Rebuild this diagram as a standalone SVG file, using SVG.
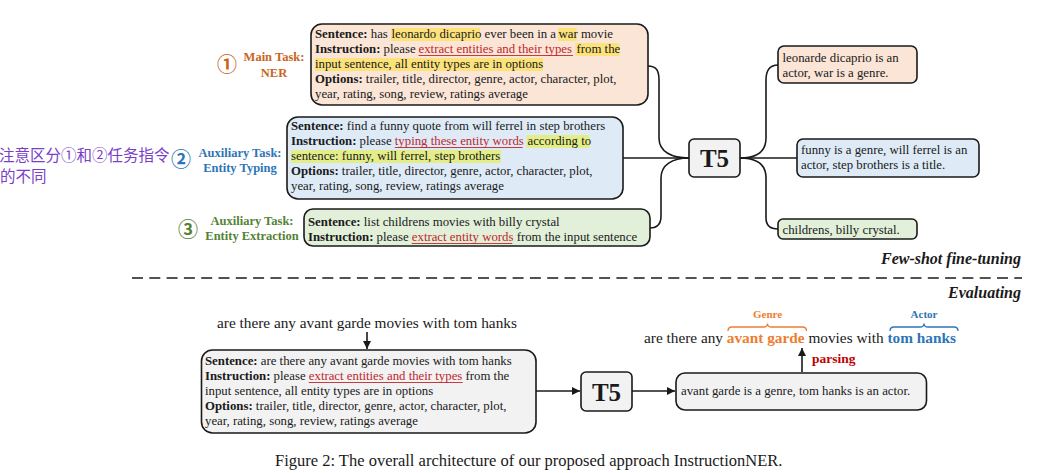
<svg xmlns="http://www.w3.org/2000/svg" width="1045" height="473" viewBox="0 0 1045 473">
<defs>
<style>
text{font-family:"Liberation Serif","Times New Roman",serif;fill:#1a1a1a}
.bt{font-size:12.8px}
.b{font-weight:bold}
.red{fill:#c0272d}
.box{stroke:#1a1a1a;stroke-width:1.6}
.conn{fill:none;stroke:#1a1a1a;stroke-width:1.6}
.hy{fill:#fce27a}
.hg{fill:#e4ee88}
.ul{stroke:#c0272d;stroke-width:0.9}
.lbl{font-size:12.5px;font-weight:bold;text-anchor:middle}
.circ{font-family:"Noto Sans CJK SC","DejaVu Sans",sans-serif;font-size:20px;font-weight:bold;text-anchor:middle}
.t5{font-size:25px;font-weight:bold;text-anchor:middle}
</style>
<marker id="ah" viewBox="0 0 10 10" refX="10" refY="5" markerWidth="8" markerHeight="8" markerUnits="userSpaceOnUse" orient="auto">
<path d="M0,0 L10,5 L0,10 z" fill="#1a1a1a"/>
</marker>
</defs>
<rect width="1045" height="473" fill="#ffffff"/>

<!-- note -->
<g id="note">
<text x="-1" y="161" style="font-family:'Noto Sans CJK SC',sans-serif;font-size:15.5px;fill:#7a3fc8">注意区分①和②任务指令</text>
<text x="0" y="182" style="font-family:'Noto Sans CJK SC',sans-serif;font-size:15.5px;fill:#7a3fc8">的不同</text>
</g>

<!-- task labels -->
<g id="label-main">
<text class="circ" x="227" y="72" style="fill:#c9651c">①</text>
<text class="lbl" x="274" y="61" style="fill:#c9651c">Main Task:</text>
<text class="lbl" x="274" y="77" style="fill:#c9651c">NER</text>
</g>
<g id="label-typing">
<text class="circ" x="181" y="167" style="fill:#2e75b6">②</text>
<text class="lbl" x="240" y="157" style="fill:#2e75b6">Auxiliary Task:</text>
<text class="lbl" x="240" y="172" style="fill:#2e75b6">Entity Typing</text>
</g>
<g id="label-extraction">
<text class="circ" x="188" y="237" style="fill:#548235">③</text>
<text class="lbl" x="252" y="225" style="fill:#548235">Auxiliary Task:</text>
<text class="lbl" x="252" y="240" style="fill:#548235">Entity Extraction</text>
</g>

<!-- connectors -->
<g id="connectors">
<path class="conn" d="M648,66 C656,66 659,70 659,80 L659,138 C659,152 672,158 689,158"/>
<path class="conn" d="M623,158 L689,158"/>
<path class="conn" d="M650,228 C657,228 661,224 661,216 L661,178 C661,165 672,158 689,158"/>
<path class="conn" d="M740,158 C756,158 766,152 766,138 L766,80 C766,70 770,65 778,65"/>
<path class="conn" d="M740,158 L797,158"/>
<path class="conn" d="M740,158 C756,158 766,164 766,178 L766,218 C766,225 770,229 778,229"/>
<line class="conn" x1="367" y1="332" x2="367" y2="349" marker-end="url(#ah)"/>
<line class="conn" x1="536" y1="391" x2="580" y2="391" marker-end="url(#ah)"/>
<line class="conn" x1="632" y1="391" x2="675" y2="391" marker-end="url(#ah)"/>
<line class="conn" x1="802" y1="372" x2="802" y2="348" marker-end="url(#ah)"/>
</g>

<!-- box 1 NER -->
<g id="box-ner">
<rect class="box" x="311" y="24" width="337" height="81" rx="11" fill="#fbe5d6"/>
<rect class="hy" x="391" y="28" width="89" height="13"/>
<rect class="hy" x="558" y="28" width="18.5" height="13"/>
<rect class="hy" x="575.5" y="43" width="44" height="13"/>
<rect class="hy" x="315" y="58" width="228" height="13"/>
<line class="ul" x1="418.5" y1="55.5" x2="573" y2="55.5"/>
<text class="bt" x="315" y="38"><tspan class="b">Sentence:</tspan> has <tspan x="391.5">leonardo dicaprio</tspan> ever been in a <tspan x="558.5">war</tspan> movie</text>
<text class="bt" x="315" y="53"><tspan class="b">Instruction:</tspan> please <tspan x="418.5" class="red">extract entities and their types</tspan> <tspan x="576.5">from the</tspan></text>
<text class="bt" x="315" y="68">input sentence, all entity types are in options</text>
<text class="bt" x="315" y="83"><tspan class="b">Options:</tspan> trailer, title, director, genre, actor, character, plot,</text>
<text class="bt" x="315" y="98">year, rating, song, review, ratings average</text>
</g>

<!-- box 2 typing -->
<g id="box-typing">
<rect class="box" x="287" y="117" width="336" height="82" rx="11" fill="#deebf7"/>
<rect class="hg" x="526.5" y="135" width="63" height="13"/>
<rect class="hg" x="291" y="150" width="210" height="13"/>
<line class="ul" x1="394.8" y1="147.5" x2="522.7" y2="147.5"/>
<text class="bt" x="291" y="130"><tspan class="b">Sentence:</tspan> find a funny quote from will ferrel in step brothers</text>
<text class="bt" x="291" y="145"><tspan class="b">Instruction:</tspan> please <tspan x="394.8" class="red">typing these entity words</tspan> <tspan x="527.5">according to</tspan></text>
<text class="bt" x="291" y="160">sentence: funny, will ferrel, step brothers</text>
<text class="bt" x="291" y="175"><tspan class="b">Options:</tspan> trailer, title, director, genre, actor, character, plot,</text>
<text class="bt" x="291" y="190">year, rating, song, review, ratings average</text>
</g>

<!-- box 3 extraction -->
<g id="box-extraction">
<rect class="box" x="304" y="209" width="346" height="37" rx="9" fill="#e2f0d9"/>
<line class="ul" x1="411.8" y1="243.5" x2="512.3" y2="243.5"/>
<text class="bt" x="308" y="226"><tspan class="b">Sentence:</tspan> list childrens movies with billy crystal</text>
<text class="bt" x="308" y="241"><tspan class="b">Instruction:</tspan> please <tspan x="411.8" class="red">extract entity words</tspan> from the input sentence</text>
</g>

<!-- T5 top -->
<g id="t5-top">
<rect class="box" x="689" y="139" width="51" height="38" rx="5" fill="#f2f2f2"/>
<text class="t5" x="714.5" y="167">T5</text>
</g>

<!-- outputs -->
<g id="out-ner">
<rect class="box" x="778" y="46" width="139" height="37" rx="6" fill="#fbe5d6"/>
<text class="bt" x="782.5" y="62">leonarde dicaprio is an</text>
<text class="bt" x="782.5" y="77">actor, war is a genre.</text>
</g>
<g id="out-typing">
<rect class="box" x="797" y="139" width="182" height="38" rx="6" fill="#deebf7"/>
<text class="bt" x="801" y="154">funny is a genre, will ferrel is an</text>
<text class="bt" x="801" y="169">actor, step brothers is a title.</text>
</g>
<g id="out-extraction">
<rect class="box" x="778" y="219" width="139" height="20" rx="5" fill="#e2f0d9"/>
<text class="bt" x="782.5" y="233.5">childrens, billy crystal.</text>
</g>

<!-- separator -->
<g id="separator">
<text x="1021" y="264" style="font-size:16px;font-weight:bold;font-style:italic;text-anchor:end">Few-shot fine-tuning</text>
<line x1="132" y1="278" x2="1022" y2="278" stroke="#1a1a1a" stroke-width="1.4" stroke-dasharray="11 6.3"/>
<text x="1021" y="298" style="font-size:16px;font-weight:bold;font-style:italic;text-anchor:end">Evaluating</text>
</g>

<!-- evaluation -->
<g id="eval-input">
<text x="217" y="328" style="font-size:15.3px">are there any avant garde movies with tom hanks</text>
</g>
<g id="eval-box">
<rect class="box" x="201.5" y="350" width="334.5" height="83" rx="11" fill="#f2f2f2"/>
<line class="ul" x1="308.8" y1="382.5" x2="462.7" y2="382.5"/>
<text class="bt" x="205" y="365"><tspan class="b">Sentence:</tspan> are there any avant garde movies with tom hanks</text>
<text class="bt" x="205" y="380"><tspan class="b">Instruction:</tspan> please <tspan x="308.8" class="red">extract entities and their types</tspan> from the</text>
<text class="bt" x="205" y="395">input sentence, all entity types are in options</text>
<text class="bt" x="205" y="410"><tspan class="b">Options:</tspan> trailer, title, director, genre, actor, character, plot,</text>
<text class="bt" x="205" y="425">year, rating, song, review, ratings average</text>
</g>
<g id="t5-bottom">
<rect class="box" x="581" y="372" width="51" height="39" rx="5" fill="#f2f2f2"/>
<text class="t5" x="606.5" y="400.5">T5</text>
</g>
<g id="eval-output">
<rect class="box" x="676" y="373" width="250.5" height="37" rx="9" fill="#f2f2f2"/>
<text class="bt" x="681" y="395">avant garde is a genre, tom hanks is an actor.</text>
</g>
<g id="parsing">
<text x="812" y="363" style="font-size:13.5px;font-weight:bold;fill:#c00000">parsing</text>
</g>
<g id="eval-result">
<text x="644" y="343" style="font-size:15.3px">are there any <tspan style="font-weight:bold;fill:#ed7d31">avant garde</tspan> movies with <tspan style="font-weight:bold;fill:#2e75b6">tom hanks</tspan></text>
<path d="M728,331 Q728,327 732,327 L763.5,327 Q767.5,327 767.5,323.5 Q767.5,327 771.5,327 L802.5,327 Q806.5,327 806.5,331" fill="none" stroke="#ed7d31" stroke-width="1.3"/>
<text x="767.5" y="318" style="font-size:11px;font-weight:bold;fill:#ed7d31;text-anchor:middle">Genre</text>
<path d="M890,331 Q890,327 894,327 L920,327 Q924,327 924,323.5 Q924,327 928,327 L954,327 Q958,327 958,331" fill="none" stroke="#2e75b6" stroke-width="1.3"/>
<text x="924" y="318" style="font-size:11px;font-weight:bold;fill:#2e75b6;text-anchor:middle">Actor</text>
</g>

<!-- caption -->
<text x="275" y="466" style="font-size:16.5px">Figure 2: The overall architecture of our proposed approach InstructionNER.</text>
</svg>
